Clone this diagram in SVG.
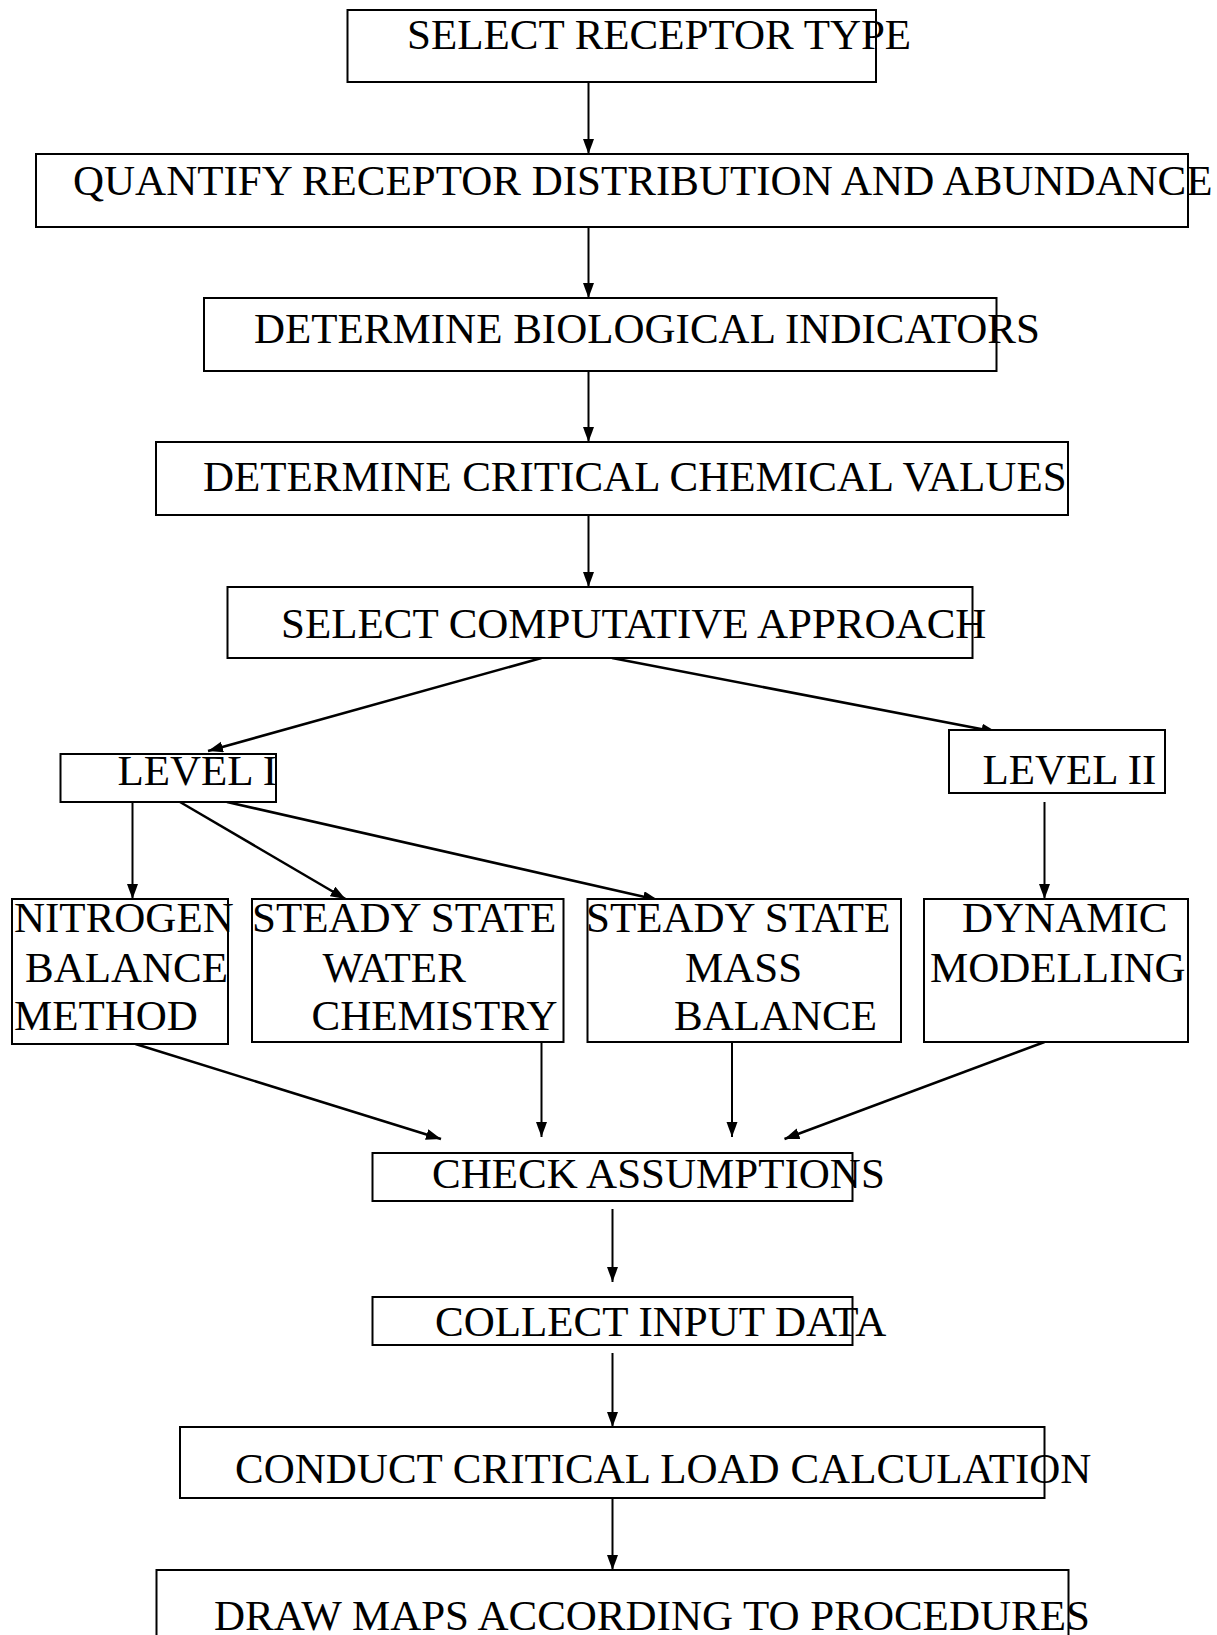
<svg xmlns="http://www.w3.org/2000/svg" width="1217" height="1635" viewBox="0 0 1217 1635">
<defs>
<marker id="ah" markerUnits="userSpaceOnUse" markerWidth="16" markerHeight="12" refX="15" refY="5.5" orient="auto">
<path d="M0,0 L15,5.5 L0,11 z" fill="#000"/>
</marker>
<style>
.box{fill:#fff;stroke:#000;stroke-width:2}
.t{font-family:"Liberation Serif","Times New Roman",serif;font-size:43px;fill:#000}
.c{fill:none;stroke:#000;stroke-width:2;marker-end:url(#ah)}
.d{fill:none;stroke:#000;stroke-width:2.5;marker-end:url(#ah)}
</style>
</defs>
<rect width="1217" height="1635" fill="#fff"/>
<g id="connectors">
<line class="c" x1="588.5" y1="82" x2="588.5" y2="154"/>
<line class="c" x1="588.5" y1="227" x2="588.5" y2="298"/>
<line class="c" x1="588.5" y1="371" x2="588.5" y2="442"/>
<line class="c" x1="588.5" y1="515" x2="588.5" y2="587"/>
<line class="d" x1="541.5" y1="658" x2="208" y2="751"/>
<line class="d" x1="612" y1="658" x2="996.5" y2="732"/>
<line class="c" x1="132.5" y1="802" x2="132.5" y2="899"/>
<line class="d" x1="180" y1="802" x2="345.5" y2="899"/>
<line class="d" x1="227" y1="802" x2="658" y2="900"/>
<line class="c" x1="1044.5" y1="802" x2="1044.5" y2="899"/>
<line class="d" x1="135.5" y1="1044" x2="441" y2="1139"/>
<line class="c" x1="541.5" y1="1042" x2="541.5" y2="1137"/>
<line class="c" x1="732" y1="1042" x2="732" y2="1137"/>
<line class="d" x1="1044.5" y1="1042" x2="784.5" y2="1139"/>
<line class="c" x1="612.5" y1="1209" x2="612.5" y2="1282"/>
<line class="c" x1="612.5" y1="1353" x2="612.5" y2="1427"/>
<line class="c" x1="612.5" y1="1498" x2="612.5" y2="1570"/>
</g>
<g id="n1"><rect class="box" x="347.5" y="10" width="528.5" height="72"/><text class="t" x="407" y="49">SELECT RECEPTOR TYPE</text></g>
<g id="n2"><rect class="box" x="36" y="154" width="1152" height="73"/><text class="t" x="73" y="195">QUANTIFY RECEPTOR DISTRIBUTION AND ABUNDANCE</text></g>
<g id="n3"><rect class="box" x="204" y="298" width="792.5" height="73"/><text class="t" x="254" y="343">DETERMINE BIOLOGICAL INDICATORS</text></g>
<g id="n4"><rect class="box" x="156" y="442" width="912" height="73"/><text class="t" x="203" y="491">DETERMINE CRITICAL CHEMICAL VALUES</text></g>
<g id="n5"><rect class="box" x="227.5" y="587" width="745" height="71"/><text class="t" x="281" y="638">SELECT COMPUTATIVE APPROACH</text></g>
<g id="n6"><rect class="box" x="60.5" y="754" width="215.5" height="48"/><text class="t" x="117.5" y="785">LEVEL I</text></g>
<g id="n7"><rect class="box" x="949" y="730" width="216" height="63"/><text class="t" x="982.5" y="784">LEVEL II</text></g>
<g id="n8"><rect class="box" x="12" y="899" width="216" height="145"/><text class="t" x="14" y="932">NITROGEN</text><text class="t" x="25" y="982">BALANCE</text><text class="t" x="14" y="1030">METHOD</text></g>
<g id="n9"><rect class="box" x="252" y="899" width="311.5" height="143"/><text class="t" x="252" y="932">STEADY STATE</text><text class="t" x="322.5" y="982">WATER</text><text class="t" x="311.5" y="1030">CHEMISTRY</text></g>
<g id="n10"><rect class="box" x="587.5" y="899" width="313.5" height="143"/><text class="t" x="586" y="932">STEADY STATE</text><text class="t" x="685" y="982">MASS</text><text class="t" x="674" y="1030">BALANCE</text></g>
<g id="n11"><rect class="box" x="924" y="899" width="264" height="143"/><text class="t" x="962" y="932">DYNAMIC</text><text class="t" x="930" y="982">MODELLING</text></g>
<g id="n12"><rect class="box" x="372.5" y="1153" width="480" height="48"/><text class="t" x="432" y="1188">CHECK ASSUMPTIONS</text></g>
<g id="n13"><rect class="box" x="372.5" y="1297" width="480" height="48"/><text class="t" x="435" y="1336">COLLECT INPUT DATA</text></g>
<g id="n14"><rect class="box" x="180" y="1427" width="864.5" height="71"/><text class="t" x="235" y="1483">CONDUCT CRITICAL LOAD CALCULATION</text></g>
<g id="n15"><rect class="box" x="156.5" y="1570" width="912" height="80"/><text class="t" x="214" y="1630">DRAW MAPS ACCORDING TO PROCEDURES</text></g>
</svg>
